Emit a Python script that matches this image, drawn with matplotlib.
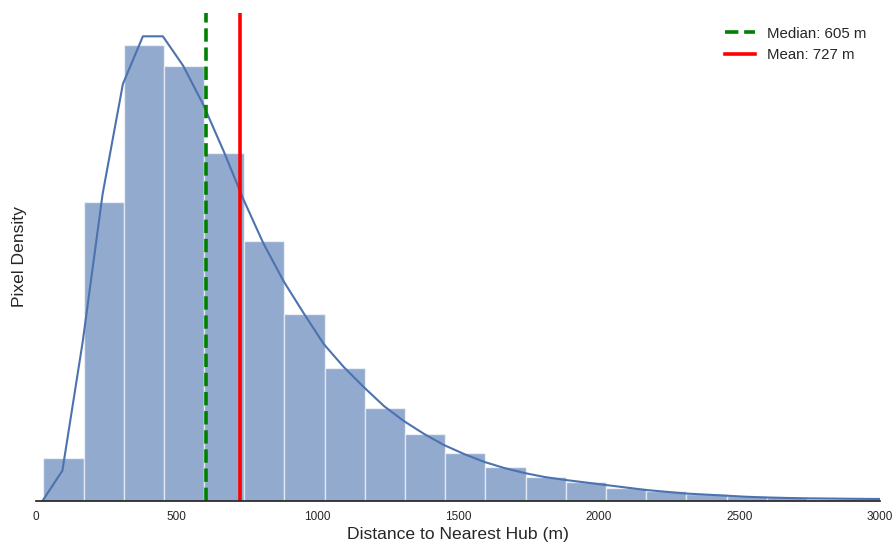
import matplotlib
matplotlib.use("Agg")
import matplotlib.pyplot as plt
import numpy as np

plt.rcParams['font.family'] = ['Liberation Sans', 'DejaVu Sans']

# histogram bins (m) and density (x1e-4 per m)
bin_edges = [27, 170, 313, 455, 598, 741, 884, 1027, 1169, 1312, 1455,
             1598, 1741, 1883, 2026, 2169, 2312, 2455, 2597, 2740, 2883, 3026]
bin_density = [1.21, 8.35, 12.75, 12.15, 9.73, 7.27, 5.21, 3.72, 2.61, 1.87,
               1.33, 0.96, 0.68, 0.52, 0.37, 0.28, 0.20, 0.14, 0.10, 0.064, 0.047]

# kde curve
kde_x = [24, 95, 167, 238, 310, 381, 452, 524, 595, 667, 738, 809, 881, 952,
         1024, 1095, 1166, 1238, 1309, 1381, 1452, 1523, 1595, 1666, 1738,
         1809, 1880, 1952, 2023, 2095, 2166, 2237, 2309, 2380, 2452, 2523,
         2594, 2666, 2737, 2809, 2880, 2951, 3023]
kde_y = [0, 0.85, 4.44, 8.58, 11.65, 12.98, 12.98, 12.16, 11.08, 9.79, 8.43,
         7.20, 6.14, 5.25, 4.38, 3.74, 3.18, 2.65, 2.23, 1.87, 1.56, 1.31,
         1.09, 0.92, 0.78, 0.67, 0.59, 0.52, 0.45, 0.38, 0.31, 0.26, 0.21,
         0.18, 0.15, 0.12, 0.10, 0.086, 0.075, 0.070, 0.064, 0.059, 0.056]

median_m = 605
mean_m = 727

fig = plt.figure(figsize=(8.96, 5.45), dpi=100)
ax = fig.add_axes([0.0398, 0.0807, 0.9423, 0.8953])

edges = np.array(bin_edges)
ax.bar(edges[:-1], bin_density, width=np.diff(edges), align='edge',
       color='#4C72B0', alpha=0.6, edgecolor='white', linewidth=1)
ax.plot(kde_x, kde_y, color='#4C72B0', lw=1.5)

ax.axvline(median_m, color='green', ls='--', lw=2.6, label=f'Median: {median_m} m')
ax.axvline(mean_m, color='red', ls='-', lw=2.6, label=f'Mean: {mean_m} m')

ax.set_xlim(0, 3000)
ax.set_ylim(0, max(kde_y) * 1.05)
ax.set_yticks([])
ax.set_xticks([0, 500, 1000, 1500, 2000, 2500, 3000])
ax.tick_params(axis='x', length=0, labelsize=8.5, colors='0.15', pad=7)

for s in ['left', 'top', 'right']:
    ax.spines[s].set_visible(False)
ax.spines['bottom'].set_color('0.15')
ax.spines['bottom'].set_linewidth(1.25)

ax.set_xlabel('Distance to Nearest Hub (m)', fontsize=12.6, color='0.15', labelpad=3)
ax.set_ylabel('Pixel Density', fontsize=12.6, color='0.15', labelpad=6)

ax.legend(loc='upper right', frameon=False, fontsize=10.8, labelcolor='0.15')

fig.savefig('out.png', dpi=100)
